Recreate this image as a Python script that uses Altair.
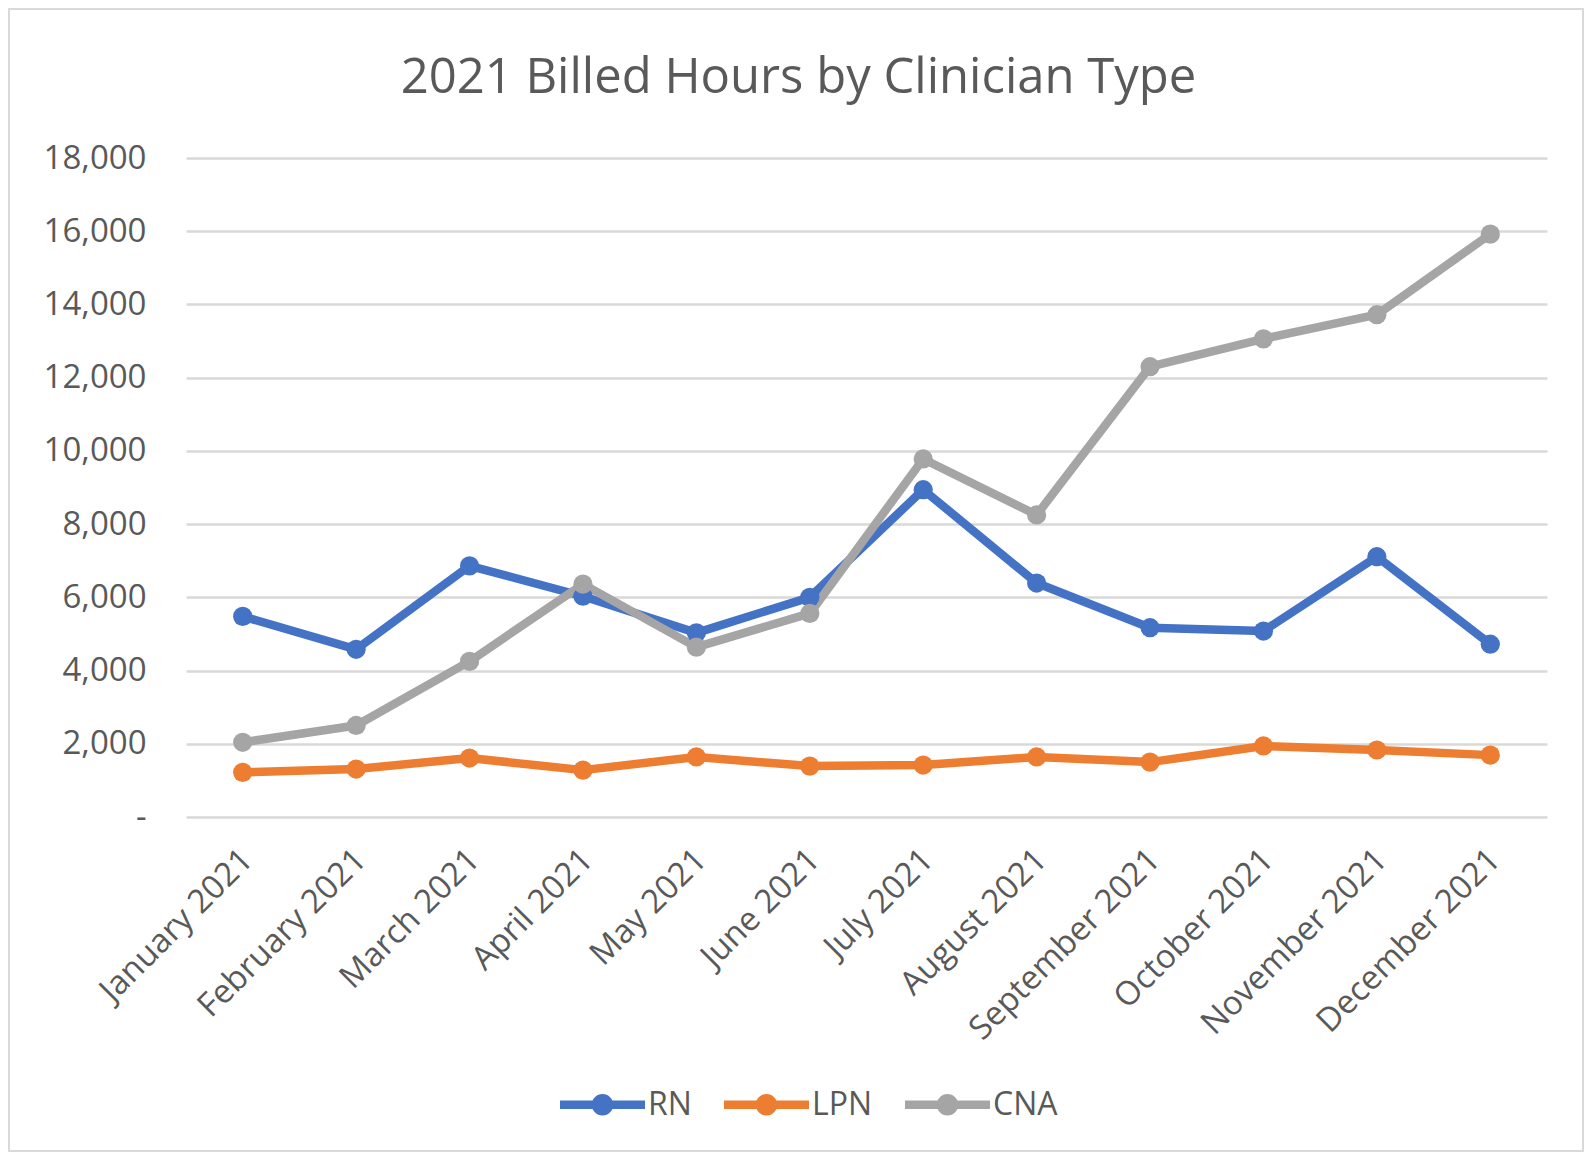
import altair as alt
import pandas as pd

months = ["January 2021", "February 2021", "March 2021", "April 2021", "May 2021", "June 2021",
          "July 2021", "August 2021", "September 2021", "October 2021", "November 2021", "December 2021"]
series = ["RN", "LPN", "CNA"]
colors = ["#4472C4", "#ED7D31", "#A5A5A5"]
rn = [5480, 4580, 6860, 6030, 5030, 6000, 8940, 6390, 5170, 5080, 7110, 4720]
lpn = [1220, 1310, 1610, 1280, 1640, 1390, 1420, 1640, 1500, 1940, 1830, 1690]
cna = [2040, 2500, 4250, 6360, 4640, 5560, 9780, 8250, 12300, 13060, 13720, 15920]
y_ticks = [0, 2000, 4000, 6000, 8000, 10000, 12000, 14000, 16000, 18000]

rows = []
for name, vals in zip(series, [rn, lpn, cna]):
    for m, v in zip(months, vals):
        rows.append({"Month": m, "Type": name, "Hours": v})
df = pd.DataFrame(rows)

FONT = "Open Sans"
TXT = "#595959"
W, H = 1361, 659
PL, PT, PR, PB = 178, 150, 38, 336

x = alt.X("Month:N", sort=months, scale=alt.Scale(type="point", padding=0.5),
          axis=alt.Axis(title=None, labelAngle=-45, labelFont=FONT, labelFontSize=33,
                        labelColor=TXT, ticks=False, domain=False, grid=False,
                        labelPadding=26, labelOffset=-7, labelLimit=0))
y = alt.Y("Hours:Q", scale=alt.Scale(domain=[0, 18000], nice=False),
          axis=alt.Axis(title=None, values=y_ticks,
                        labelExpr="datum.value == 0 ? '-' : format(datum.value, ',')",
                        labelFont=FONT, labelFontSize=33, labelColor=TXT,
                        ticks=False, domain=False, gridColor="#d9d9d9", gridWidth=2.5,
                        labelPadding=40))

legend_path = ("M-1,-0.1 L1,-0.1 L1,0.1 L-1,0.1 Z "
               "M-0.253,0 A0.253,0.253 0 1,1 0.253,0 A0.253,0.253 0 1,1 -0.253,0 Z")

color_scale = alt.Scale(domain=series, range=colors)
legend = alt.Legend(orient="none", legendX=374, legendY=904, direction="horizontal", title=None,
                    symbolType=legend_path, symbolSize=7225, symbolStrokeWidth=0,
                    symbolOpacity=1, labelFont=FONT, labelFontSize=32, labelColor=TXT,
                    labelOffset=3, columnPadding=32)

base = alt.Chart(df)
lines = base.mark_line(strokeWidth=8.5, strokeCap="round", strokeJoin="round").encode(
    x=x, y=y,
    color=alt.Color("Type:N", scale=color_scale, sort=series, legend=legend),
)
points = base.mark_circle(size=370, opacity=1).encode(
    x=x, y=y,
    color=alt.Color("Type:N", scale=color_scale, sort=series, legend=legend),
)

border = alt.Chart(pd.DataFrame({"a": [0]})).mark_rect(
    fill="transparent", stroke="#d9d9d9", strokeWidth=2
).encode(
    x=alt.value(-PL + 1), x2=alt.value(W + PR - 2),
    y=alt.value(-PT + 1), y2=alt.value(H + PB - 2),
)

chart = alt.layer(border, lines, points).properties(
    width=W, height=H,
    autosize=alt.AutoSizeParams(type="none"),
    padding={"left": PL, "top": PT, "right": PR, "bottom": PB},
    title=alt.TitleParams("2021 Billed Hours by Clinician Type", font=FONT, fontSize=49,
                          fontWeight="normal", color=TXT, anchor="middle", offset=-95, dx=-68),
).configure(background="white", view=alt.ViewConfig(stroke="transparent"))

chart.save("out.html", embed_options={"renderer": "svg", "actions": False})
